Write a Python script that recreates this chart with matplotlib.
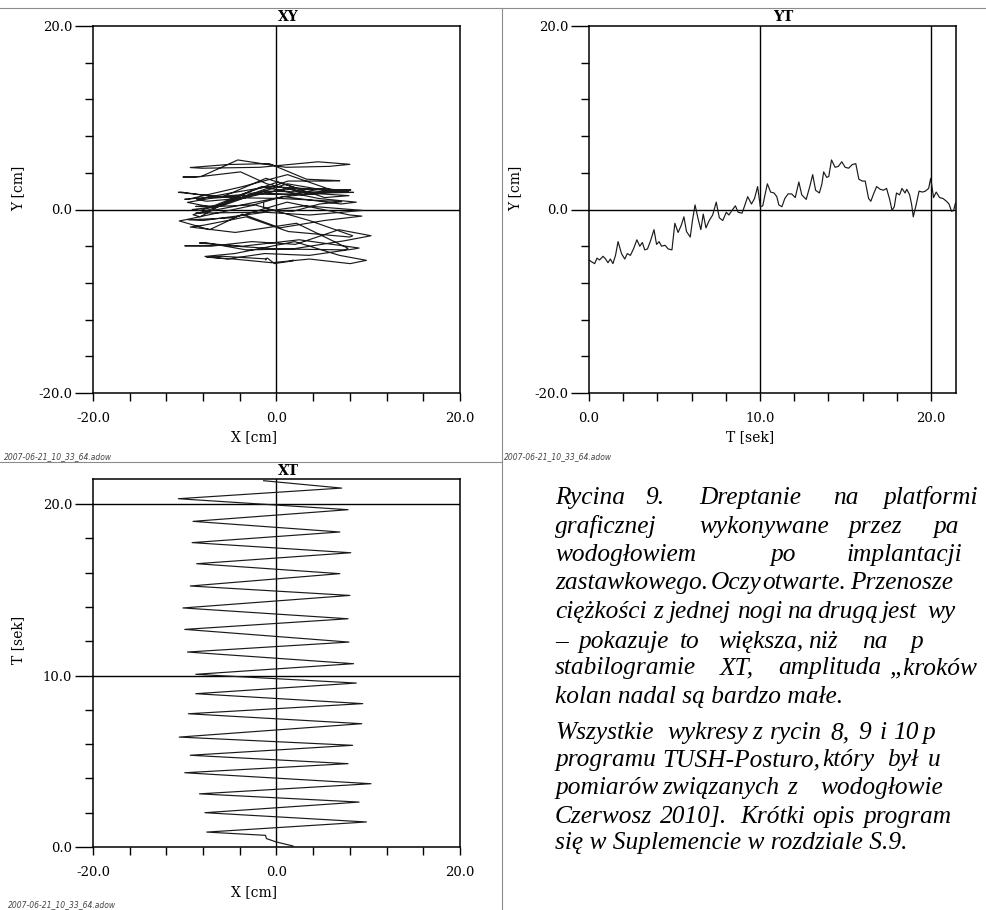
import matplotlib
matplotlib.use('Agg')
import matplotlib.pyplot as plt
import numpy as np

plt.rcParams['font.family'] = 'DejaVu Serif'

# Y [cm] against time
t_y = [0.00, 0.15, 0.33, 0.47, 0.62, 0.82, 0.97, 1.11, 1.25, 1.40, 1.55, 1.70, 1.90, 2.09,
       2.24, 2.42, 2.60, 2.80, 2.97, 3.12, 3.26, 3.42, 3.60, 3.80, 3.95, 4.10, 4.24, 4.45,
       4.63, 4.85, 5.02, 5.21, 5.40, 5.55, 5.70, 5.92, 6.05, 6.20, 6.39, 6.54, 6.68, 6.84,
       7.03, 7.23, 7.44, 7.62, 7.82, 8.03, 8.18, 8.36, 8.56, 8.72, 8.95, 9.10, 9.28, 9.50,
       9.68, 9.86, 10.02, 10.16, 10.28, 10.43, 10.62, 10.82, 10.98, 11.10, 11.28, 11.45,
       11.64, 11.85, 12.06, 12.27, 12.44, 12.70, 12.91, 13.08, 13.25, 13.47, 13.62, 13.72,
       13.90, 14.02, 14.18, 14.39, 14.58, 14.78, 14.98, 15.18, 15.40, 15.60, 15.78, 15.98,
       16.15, 16.35, 16.48, 16.64, 16.82, 17.03, 17.22, 17.40, 17.58, 17.72, 17.85, 17.98,
       18.16, 18.30, 18.48, 18.58, 18.75, 18.87, 18.96, 19.14, 19.30, 19.50, 19.67, 19.86,
       19.98, 20.15, 20.30, 20.50, 20.70, 20.90, 21.05, 21.20, 21.32, 21.43]
y_cm = [-5.5, -5.7, -5.9, -5.3, -5.5, -5.1, -5.4, -5.8, -5.4, -5.9, -5.0, -3.5, -4.8, -5.4,
        -4.8, -5.0, -4.3, -3.3, -4.0, -3.6, -4.4, -4.3, -3.4, -2.2, -3.8, -3.5, -4.0, -3.9,
        -4.3, -4.4, -1.5, -2.5, -1.7, -0.8, -2.4, -3.0, -1.2, 0.5, -1.1, -2.2, -0.5, -2.0,
        -1.2, -0.6, 0.8, -0.9, -1.2, -0.3, -0.6, -0.1, 0.4, -0.3, -0.4, 0.4, 1.4, 0.6,
        1.2, 2.5, 0.3, 0.4, 1.5, 2.8, 1.9, 1.8, 1.4, 0.5, 0.3, 1.2,
        1.7, 1.7, 1.3, 3.0, 1.6, 1.1, 2.5, 3.8, 2.1, 1.8, 2.8, 4.1,
        3.5, 3.6, 5.4, 4.6, 4.7, 5.2, 4.6, 4.5, 4.9, 5.0, 3.3, 3.1,
        3.1, 1.2, 0.9, 1.7, 2.5, 2.2, 2.1, 2.3, 1.1, -0.1, 0.3, 1.8,
        1.6, 2.3, 1.8, 2.2, 1.6, 0.5, -0.8, 0.6, 2.0, 1.9, 2.0, 2.3,
        3.4, 1.3, 1.9, 1.3, 1.2, 0.9, 0.6, -0.2, -0.1, 0.7]

# X [cm] turning points against time
t_x = [0.06, 0.29, 0.49, 0.68, 0.87, 1.46, 2.00, 2.62, 3.10, 3.69, 4.33, 4.86, 5.35, 5.93,
       6.41, 7.19, 7.77, 8.36, 8.94, 9.56, 10.07, 10.69, 11.37, 11.95, 12.69, 13.31, 13.94,
       14.67, 15.22, 15.94, 16.52, 17.16, 17.75, 18.37, 18.99, 19.67, 20.31, 20.93, 21.36]
x_cm = [1.8, 0.0, -1.1, -1.2, -7.6, 9.8, -7.8, 9.0, -8.4, 10.3, -10.0, 7.8, -9.4, 8.3,
        -10.6, 9.3, -9.6, 9.4, -8.8, 8.7, -8.8, 8.4, -9.7, 7.9, -10.0, 7.8, -10.2,
        8.0, -9.4, 6.9, -8.7, 8.1, -9.2, 6.9, -9.1, 7.8, -10.7, 7.1, -1.4]

T_END = 21.46
footer = '2007-06-21_10_33_64.adow'

W, H = 987, 910
fig = plt.figure(figsize=(W / 100, H / 100), dpi=100)


def fx(px):
    return px / W


def fy(py):
    return 1 - py / H


def panel(x0, y0, x1, y1):
    return fig.add_axes([fx(x0), fy(y1), fx(x1) - fx(x0), fy(y0) - fy(y1)])


def style(ax, xlim, ylim, xmaj, xmin, ymaj, ymin):
    ax.set_xlim(*xlim)
    ax.set_ylim(*ylim)
    ax.set_xticks(xmaj)
    ax.set_xticklabels(['%.1f' % v for v in xmaj])
    ax.set_xticks(xmin, minor=True)
    ax.set_yticks(ymaj)
    ax.set_yticklabels(['%.1f' % v for v in ymaj])
    ax.set_yticks(ymin, minor=True)
    for s in ax.spines.values():
        s.set_linewidth(1.1)
        s.set_color('black')
    ax.tick_params(axis='y', which='major', length=13, width=1.0, pad=2, labelsize=9.5)
    ax.tick_params(axis='y', which='minor', length=5.8, width=1.0)
    ax.tick_params(axis='x', which='major', length=6, width=1.0, pad=8, labelsize=9.5)
    ax.tick_params(axis='x', which='minor', length=6, width=1.0)


line_kw = dict(color='black', lw=1.0)
trace_kw = dict(color='#1a1a1a', lw=0.85)

# XY: the two read series put on one time base
ax1 = panel(93, 26, 460, 393)
style(ax1, (-20, 20), (-20, 20), [-20, 0, 20], np.arange(-20, 21, 4),
      [-20, 0, 20], np.arange(-20, 21, 4))
ax1.axhline(0, **line_kw)
ax1.axvline(0, **line_kw)
t_all = np.union1d(t_x, t_y)
ax1.plot(np.interp(t_all, t_x, x_cm), np.interp(t_all, t_y, y_cm), **trace_kw)

# YT
ax2 = panel(589, 26, 956, 393)
style(ax2, (0, T_END), (-20, 20), [0, 10, 20], np.arange(0, 21, 2),
      [-20, 0, 20], np.arange(-20, 21, 4))
ax2.axhline(0, **line_kw)
ax2.axvline(10, **line_kw)
ax2.axvline(20, **line_kw)
ax2.plot(t_y, y_cm, **trace_kw)

# XT
ax3 = panel(93, 479, 460, 847)
style(ax3, (-20, 20), (0, T_END), [-20, 0, 20], np.arange(-20, 21, 4),
      [0, 10, 20], np.arange(0, 21, 2))
ax3.axvline(0, **line_kw)
ax3.axhline(10, **line_kw)
ax3.axhline(20, **line_kw)
ax3.plot(x_cm, t_x, **trace_kw)

# titles and axis labels
lab = dict(fontsize=10, ha='center', va='center')
fig.text(fx(288), fy(17), 'XY', fontweight='bold', **lab)
fig.text(fx(783), fy(17), 'YT', fontweight='bold', **lab)
fig.text(fx(288), fy(471), 'XT', fontweight='bold', **lab)
fig.text(fx(254), fy(437), 'X [cm]', **lab)
fig.text(fx(18), fy(188), 'Y [cm]', rotation=90, **lab)
fig.text(fx(750), fy(437), 'T [sek]', **lab)
fig.text(fx(515), fy(188), 'Y [cm]', rotation=90, **lab)
fig.text(fx(254), fy(892), 'X [cm]', **lab)
fig.text(fx(18), fy(640), 'T [sek]', rotation=90, **lab)

foot = dict(fontsize=5.5, style='italic', family='DejaVu Sans', color='#444444', va='center')
fig.text(fx(4), fy(457), footer, **foot)
fig.text(fx(504), fy(457), footer, **foot)
fig.text(fx(8), fy(905), footer, **foot)

# page separators
sep = dict(color='#8c8c8c', lw=0.8, transform=fig.transFigure)
fig.add_artist(plt.Line2D([0, 1], [fy(8), fy(8)], **sep))
fig.add_artist(plt.Line2D([fx(502.5), fx(502.5)], [fy(8), 0], **sep))
fig.add_artist(plt.Line2D([0, fx(502.5)], [fy(461.5), fy(461.5)], **sep))

# caption: justified lines placed word by word, cut by the right page edge
caption = [
    (504, [(555, 'Rycina'), (645, '9.'), (699, 'Dreptanie'), (833, 'na'), (883, 'platformi')]),
    (533, [(555, 'graficznej'), (699, 'wykonywane'), (848, 'przez'), (933, 'pa')]),
    (561, [(555, 'wodogłowiem'), (770, 'po'), (847, 'implantacji')]),
    (589, [(555, 'zastawkowego.'), (711, 'Oczy'), (762, 'otwarte.'), (850, 'Przenosze')]),
    (618, [(555, 'ciężkości'), (653, 'z'), (669, 'jednej'), (737, 'nogi'), (787, 'na'),
           (817, 'drugą'), (882, 'jest'), (927, 'wy')]),
    (648, [(555, '–'), (578, 'pokazuje'), (680, 'to'), (718, 'większa,'), (808, 'niż'),
           (862, 'na'), (910, 'p')]),
    (674, [(555, 'stabilogramie'), (720, 'XT,'), (778, 'amplituda'), (890, '„kroków')]),
    (703, [(555, 'kolan nadal są bardzo małe.')]),
    (739, [(555, 'Wszystkie'), (667, 'wykresy'), (752, 'z'), (770, 'rycin'), (830, '8,'),
           (858, '9'), (880, 'i'), (893, '10'), (922, 'p')]),
    (766, [(555, 'programu'), (662, 'TUSH-Posturo,'), (822, 'który'), (887, 'był'), (928, 'u')]),
    (794, [(555, 'pomiarów'), (662, 'związanych'), (787, 'z'), (820, 'wodogłowie')]),
    (823, [(555, 'Czerwosz'), (660, '2010].'), (740, 'Krótki'), (812, 'opis'), (863, 'program')]),
    (849, [(555, 'się w Suplemencie w rozdziale S.9.')]),
]
for base, words in caption:
    for x0, word in words:
        fig.text(fx(x0), fy(base), word, fontsize=18.3, family='Liberation Serif',
                 style='italic', ha='left', va='baseline', color='black')

fig.savefig('out.png', dpi=100)
